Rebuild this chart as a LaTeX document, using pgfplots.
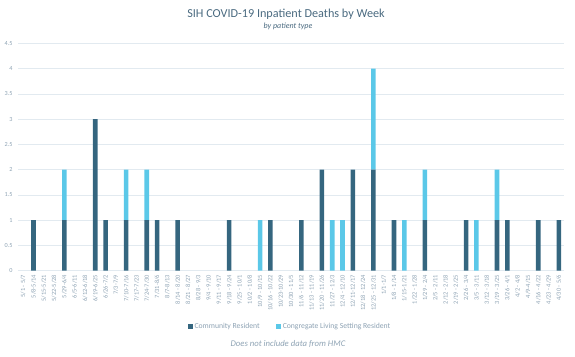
\documentclass[border=0pt]{standalone}
\usepackage{pgfplots}
\pgfplotsset{compat=1.18}
\usepackage{fontspec}
\setmainfont{Carlito}
\definecolor{comm}{HTML}{35667F}
\definecolor{cong}{HTML}{5BC8E8}
\definecolor{txt}{HTML}{8EA3B4}
\definecolor{ttl}{HTML}{4A6A80}
\definecolor{grd}{HTML}{E2EAF0}
\begin{document}
\begin{tikzpicture}[x=1pt,y=1pt]
\path (0,0) rectangle (575,356);
\node[text=ttl,font=\fontsize{12.2}{14}\selectfont] at (286,342) {SIH COVID-19 Inpatient Deaths by Week};
\node[text=ttl,font=\fontsize{8}{9}\selectfont\itshape] at (288,329.5) {by patient type};
\node[text=txt,font=\fontsize{8.7}{10}\selectfont\itshape] at (288,12) {Does not include data from HMC};
\begin{axis}[
  at={(18pt,85.3pt)}, anchor=south west,
  scale only axis, width=546pt, height=227.4pt,
  ybar stacked, bar width=4.6pt,
  xmin=-0.5, xmax=52.5, ymin=0, ymax=4.5,
  ytick={0,0.5,...,4.5},
  ymajorgrids, grid style={grd, line width=0.6pt},
  axis line style={draw=none},
  axis x line*=bottom,
  x axis line style={draw=grd, line width=0.8pt},
  major tick length=0pt,
  xtick={0,...,52},
  xticklabels={5/1 - 5/7,5/8-5/14,5/15-5/21,5/22-5/28,5/29-6/4,6/5-6/11,6/12-6/18,6/19-6/25,6/26-7/2,7/3-7/9,7/10-7/16,7/17-7/23,7/24-7/30,7/31-8/6,8/7-8/13,8/14 - 8/20,8/21 - 8/27,8/28 - 9/3,9/4 - 9/10,9/11 - 9/17,9/18 - 9/24,9/25 - 10/1,10/2 - 10/8,10/9 - 10/15,10/16 - 10/22,10/23-10/29,10/30 - 11/5,11/6 - 11/12,11/13 - 11/19,11/20 - 11/26,11/27 - 12/3,12/4 - 12/10,12/11-12/17,12/18 - 12/24,12/25 - 12/31,1/1-1/7,1/8 - 1/14,1/15-1/21,1/22 - 1/28,1/29 - 2/4,2/5 - 2/11,2/12 - 2/18,2/19 - 2/25,2/26 - 3/4,3/5 - 3/11,3/12 - 3/18,3/19 - 3/25,3/26 - 4/1,4/2 - 4/8,4/9-4/15,4/16 - 4/22,4/23 - 4/29,4/30 - 5/6},
  x tick label style={rotate=90, anchor=east, text=txt, font=\fontsize{6.4}{7}\selectfont, inner sep=1pt},
  xticklabel shift=3pt,
  y tick label style={text=txt, font=\fontsize{6.2}{7}\selectfont},
  yticklabel style={/pgf/number format/assume math mode=true},
  yticklabel shift=2pt,
  legend style={at={(0.498,-0.247)}, anchor=center, draw=none, legend columns=2,
    font=\fontsize{7.7}{9}\selectfont, text=txt,
    /tikz/every even column/.append style={column sep=14pt}},
  legend image code/.code={\fill[#1] (0,-2.5pt) rectangle (5pt,2.5pt);},
]
\addplot[fill=comm, draw=none] coordinates {
(0,0)(1,1)(2,0)(3,0)(4,1)(5,0)(6,0)(7,3)(8,1)(9,0)(10,1)(11,0)(12,1)(13,1)(14,0)(15,1)(16,0)(17,0)(18,0)(19,0)(20,1)(21,0)(22,0)(23,0)(24,1)(25,0)(26,0)(27,1)(28,0)(29,2)(30,0)(31,0)(32,2)(33,0)(34,2)(35,0)(36,1)(37,0)(38,0)(39,1)(40,0)(41,0)(42,0)(43,1)(44,0)(45,0)(46,1)(47,1)(48,0)(49,0)(50,1)(51,0)(52,1)};
\addlegendentry{Community Resident}
\addplot[fill=cong, draw=none] coordinates {
(0,0)(1,0)(2,0)(3,0)(4,1)(5,0)(6,0)(7,0)(8,0)(9,0)(10,1)(11,0)(12,1)(13,0)(14,0)(15,0)(16,0)(17,0)(18,0)(19,0)(20,0)(21,0)(22,0)(23,1)(24,0)(25,0)(26,0)(27,0)(28,0)(29,0)(30,1)(31,1)(32,0)(33,0)(34,2)(35,0)(36,0)(37,1)(38,0)(39,1)(40,0)(41,0)(42,0)(43,0)(44,1)(45,0)(46,1)(47,0)(48,0)(49,0)(50,0)(51,0)(52,0)};
\addlegendentry{Congregate Living Setting Resident}
\end{axis}
\end{tikzpicture}
\end{document}
